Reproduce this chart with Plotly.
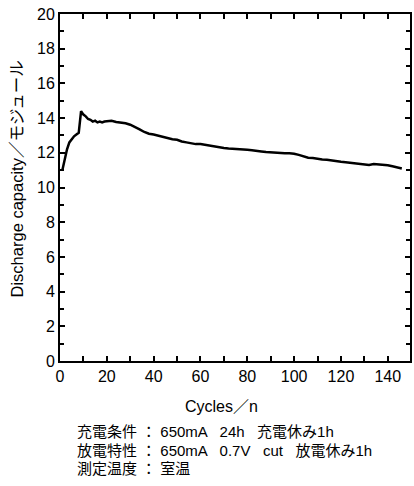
import plotly.graph_objects as go

# Discharge capacity per cycle
cycles = [1, 2, 3, 4, 5, 6, 7, 8, 9, 10, 11, 12, 13, 14, 15, 16, 17, 18, 19, 20,
          22, 24, 26, 28, 30, 32, 34, 36, 38, 40, 42, 44, 46, 48, 50, 52, 54, 56,
          58, 60, 62, 64, 66, 68, 70, 72, 74, 76, 78, 80, 82, 84, 86, 88, 90, 92,
          94, 96, 98, 100, 102, 104, 106, 108, 110, 112, 114, 116, 118, 120, 122,
          124, 126, 128, 130, 132, 134, 136, 138, 140, 142, 144, 146]
capacity = [11.0, 11.6, 12.2, 12.6, 12.8, 12.95, 13.05, 13.15, 14.4, 14.2, 14.1,
            13.95, 13.9, 13.8, 13.85, 13.75, 13.8, 13.75, 13.8, 13.82,
            13.85, 13.78, 13.75, 13.7, 13.62, 13.5, 13.35, 13.2, 13.1, 13.05,
            12.98, 12.93, 12.85, 12.78, 12.75, 12.65, 12.6, 12.55, 12.5, 12.5,
            12.45, 12.42, 12.38, 12.32, 12.28, 12.25, 12.22, 12.2, 12.2, 12.17,
            12.15, 12.1, 12.08, 12.05, 12.02, 12.0, 12.0, 11.97, 11.97, 11.95,
            11.88, 11.8, 11.72, 11.7, 11.65, 11.62, 11.6, 11.55, 11.52, 11.48,
            11.45, 11.42, 11.4, 11.38, 11.33, 11.3, 11.35, 11.33, 11.3, 11.28,
            11.22, 11.15, 11.1]

x_ticks = [0, 20, 40, 60, 80, 100, 120, 140]
y_ticks = [0, 2, 4, 6, 8, 10, 12, 14, 16, 18, 20]

x_title = "Cycles／n"
y_title = "Discharge capacity／モジュール"
notes = [
    "充電条件 ： 650mA   24h   充電休み1h",
    "放電特性 ： 650mA   0.7V   cut   放電休み1h",
    "測定温度 ： 室温",
]

FONT = "Liberation Sans, Arial, Noto Sans CJK JP, sans-serif"

fig = go.Figure()
fig.add_trace(go.Scatter(
    x=cycles, y=capacity, mode="lines",
    line=dict(color="black", width=2.5), hoverinfo="skip", showlegend=False,
))

fig.update_xaxes(
    range=[0, 149.5], tickvals=x_ticks, ticks="inside", ticklen=5, tickwidth=1.5,
    tickcolor="black", showline=True, linecolor="black", linewidth=1.8,
    mirror="ticks", showgrid=False, zeroline=False,
    minor=dict(dtick=10, tick0=0, ticks="inside", ticklen=5, tickwidth=1.5,
               tickcolor="black", showgrid=False),
    tickfont=dict(size=16, color="black"),
)
fig.update_yaxes(
    range=[0, 20], tickvals=y_ticks, ticks="inside", ticklen=5, tickwidth=1.5,
    tickcolor="black", showline=True, linecolor="black", linewidth=1.8,
    mirror="ticks", showgrid=False, zeroline=False,
    minor=dict(dtick=1, tick0=0, ticks="inside", ticklen=4, tickwidth=1.5,
               tickcolor="black", showgrid=False),
    tickfont=dict(size=16, color="black"),
)

# axis titles
fig.add_annotation(
    text=x_title, xref="paper", yref="paper", x=0.462, y=-0.132,
    xanchor="center", yanchor="middle", showarrow=False,
    font=dict(size=16, color="black"),
)
fig.add_annotation(
    text=y_title, xref="paper", yref="paper", x=-0.122, y=0.524,
    xanchor="center", yanchor="middle", textangle=-90, showarrow=False,
    font=dict(size=16.5, color="black"),
)

# test-condition notes under the chart
for i, line in enumerate(notes):
    fig.add_annotation(
        text=line, xref="paper", yref="paper", x=0.042, y=-0.2046 - i * 0.0519,
        xanchor="left", yanchor="middle", showarrow=False,
        font=dict(size=15, color="black"),
    )

fig.update_layout(
    width=414, height=486,
    margin=dict(l=60, r=2, t=14, b=125),
    paper_bgcolor="white", plot_bgcolor="white",
    font=dict(family=FONT, color="black"),
)

fig.write_html("out.html")
